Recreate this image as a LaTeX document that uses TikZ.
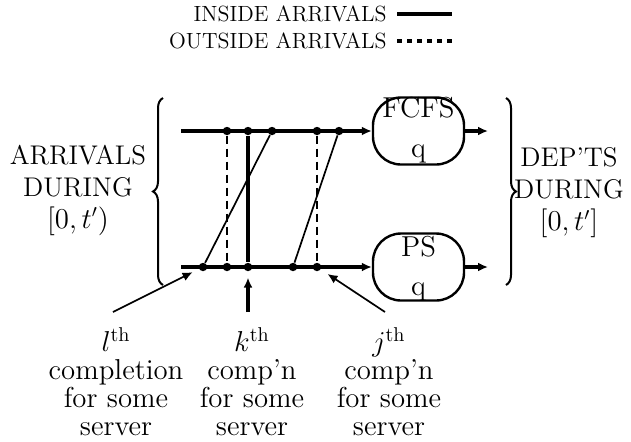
\documentclass[tikz,border=0pt]{standalone}
\usepackage{tikz}
\usetikzlibrary{arrows.meta, decorations.pathreplacing, calc}

\begin{document}
\begin{tikzpicture}[
    x=0.5pt, y=-0.5pt,
    main/.style={line width=2pt},
    thinline/.style={line width=0.85pt},
    outside/.style={line width=1.3pt, dash pattern=on 4pt off 2.5pt},
    arr/.style={-{Latex[length=5pt, width=4.5pt]}},
    dot/.style={circle, fill, inner sep=0pt, minimum size=4.2pt},
    queue/.style={draw, line width=1.2pt, rounded corners=14pt, minimum width=45.5pt, minimum height=33.5pt, inner sep=0pt},
    qname/.style={font=\fontsize{14.4}{16}\selectfont, inner sep=0pt},
    legend/.style={font=\fontsize{11}{13}\selectfont, inner sep=0pt},
    side/.style={font=\fontsize{13.5}{16}\selectfont, align=center},
    lbl/.style={font=\fontsize{14.4}{14}\selectfont, align=center, inner sep=0pt},
    brc/.style={line width=1pt, decorate, decoration={brace, amplitude=5pt}}
]
    \useasboundingbox (0,0) rectangle (631,441);

    % 图例
    \node[legend, anchor=east] (inleg) at (387,14) {INSIDE ARRIVALS};
    \node[legend, anchor=east] (outleg) at (387,41) {OUTSIDE ARRIVALS};
    \coordinate (inend) at (452,14);
    \coordinate (outend) at (452,41);
    \draw[main, shorten <=5pt] (inleg.east) -- (inend);
    \draw[main, dash pattern=on 2.5pt off 2.5pt, shorten <=5pt] (outleg.east) -- (outend);

    % 队列
    \node[queue] (fcfs) at (418.5,131) {};
    \node[queue] (ps) at (418.5,267) {};
    \node[qname, anchor=north] (fcfsn) at ($(fcfs.north)+(0,1)$) {FCFS};
    \node[qname, anchor=base] (fcfsq) at ($(fcfs.south)+(0,-8)$) {q};
    \node[qname, anchor=north] (psn) at ($(ps.north)+(0,4)$) {PS};
    \node[qname, anchor=base] (psq) at ($(ps.south)+(0,-6)$) {q};

    % 到达点
    \node[dot] (t1) at (227,131) {};
    \node[dot] (t2) at (248,131) {};
    \node[dot] (t3) at (272,131) {};
    \node[dot] (t4) at (317,131) {};
    \node[dot] (t5) at (339,131) {};
    \node[dot] (b1) at (203,267) {};
    \node[dot] (b2) at (227,267) {};
    \node[dot] (b3) at (248,267) {};
    \node[dot] (b4) at (293,267) {};
    \node[dot] (b5) at (317,267) {};

    % 主线
    \coordinate (tin) at (181,131);
    \coordinate (bin) at (181,267);
    \coordinate (tout) at (488,131);
    \coordinate (bout) at (488,267);
    \draw[main, arr] (tin) -- (fcfs.west);
    \draw[main, arr] (bin) -- (ps.west);
    \draw[main, arr] (fcfs.east) -- (tout);
    \draw[main, arr] (ps.east) -- (bout);

    % 连线
    \draw[outside] (t1) -- (b2);
    \draw[main] (t2) -- (b3);
    \draw[outside] (t4) -- (b5);
    \draw[thinline] (b1) -- (t3);
    \draw[thinline] (b4) -- (t5);

    % 括号
    \coordinate (lbb) at (163,285);
    \coordinate (lbt) at (163,98);
    \coordinate (rbt) at (506,98);
    \coordinate (rbb) at (506,285);
    \draw[brc] (lbb) -- (lbt);
    \draw[brc] (rbt) -- (rbb);
    \node[side] (arrd) at (78,190) {ARRIVALS\\DURING\\$[0,t')$};
    \node[side] (depd) at (569,193) {DEP'TS\\DURING\\$[0,t']$};

    % 说明
    \node[lbl, anchor=north] (lth) at (116,327) {$l^{\rm th}$\\completion\\for some\\server};
    \node[lbl, anchor=north] (kth) at (252,327) {$k^{\rm th}$\\comp'n\\for some\\server};
    \node[lbl, anchor=north] (jth) at (389,327) {$j^{\rm th}$\\comp'n\\for some\\server};
    \coordinate (lfoot) at (113,312);
    \coordinate (kfoot) at (248,312);
    \coordinate (jfoot) at (385,312);
    \draw[thinline, arr, shorten >=3.5pt] (lfoot) -- (b1);
    \draw[main, arr, shorten >=3pt] (kfoot) -- (b3);
    \draw[thinline, arr, shorten >=4pt] (jfoot) -- (b5);
\end{tikzpicture}
\end{document}
